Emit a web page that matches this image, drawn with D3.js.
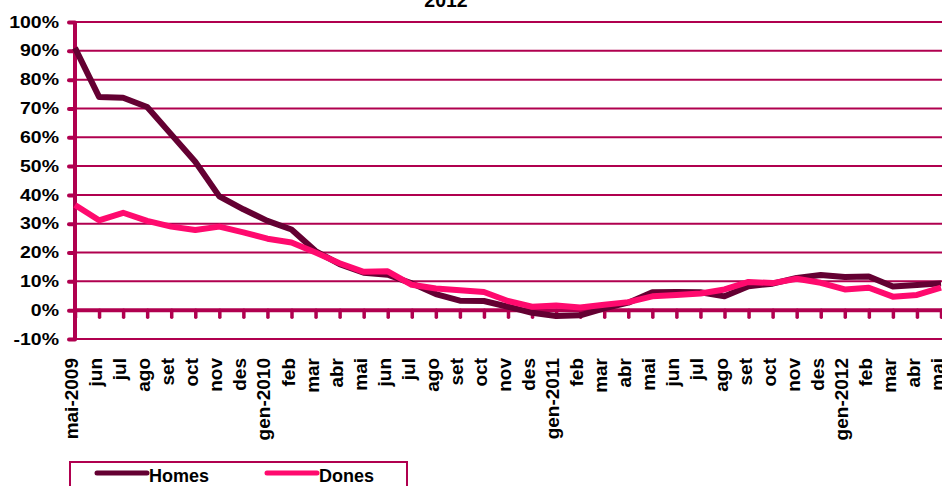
<!DOCTYPE html>
<html>
<head>
<meta charset="utf-8">
<script src="https://cdn.jsdelivr.net/npm/d3@7"></script>
<style>
	body { margin: 0; background: #fff; }
	svg { display: block; font-family: "Liberation Sans", Arial, sans-serif; font-weight: bold; }
</style>
</head>
<body>
<svg id="chart" width="942" height="486"></svg>
<script>
var months = ['mai-2009', 'jun', 'jul', 'ago', 'set', 'oct', 'nov', 'des',
	'gen-2010', 'feb', 'mar', 'abr', 'mai', 'jun', 'jul', 'ago', 'set', 'oct', 'nov', 'des',
	'gen-2011', 'feb', 'mar', 'abr', 'mai', 'jun', 'jul', 'ago', 'set', 'oct', 'nov', 'des',
	'gen-2012', 'feb', 'mar', 'abr', 'mai'];

var homes = [91, 74, 73.7, 70.5, 61, 51.5, 39.5, 35,
	31, 28, 20.5, 16, 13, 12.3, 9.3, 5.6, 3.3, 3.2, 1.2, -0.9,
	-2, -1.8, 0.6, 2.6, 6.2, 6.3, 6.2, 4.8, 8.3, 9.2, 11.2, 12.2,
	11.5, 11.7, 8.2, 8.7, 9.3];

var dones = [36.5, 31.2, 33.8, 31, 29, 27.8, 29, 27,
	24.8, 23.5, 20, 16.3, 13.3, 13.5, 8.8, 7.5, 6.9, 6.3, 3.2, 1.2,
	1.6, 0.9, 1.9, 2.8, 4.8, 5.3, 5.8, 7.2, 9.8, 9.4, 10.9, 9.5,
	7.2, 7.8, 4.7, 5.3, 7.8];

var yTicks = [-10, 0, 10, 20, 30, 40, 50, 60, 70, 80, 90, 100];

var seriesNames = ['Homes', 'Dones'];
var seriesColors = ['#640032', '#ff0a6e'];
var gridColor = '#b0004f';

var svg = d3.select('#chart');

var x = d3.scalePoint()
	.domain(d3.range(months.length))
	.range([75, 941]);

var y = d3.scaleLinear()
	.domain([-10, 100])
	.range([339, 22]);

// title (only its last line shows)
svg.append('text')
	.attr('x', 446)
	.attr('y', 7)
	.attr('text-anchor', 'middle')
	.style('font-size', '19.5px')
	.text('2012');

// horizontal grid
svg.append('g')
	.selectAll('line')
	.data(yTicks.filter(function (d) { return d != 0; }))
	.enter()
	.append('line')
	.attr('x1', 75)
	.attr('x2', 942)
	.attr('y1', function (d) { return y(d); })
	.attr('y2', function (d) { return y(d); })
	.attr('stroke', gridColor)
	.attr('stroke-width', 2);

// y axis
var yAxis = d3.axisLeft(y)
	.tickValues(yTicks)
	.tickSize(6)
	.tickPadding(10)
	.tickFormat(function (d) { return d + '%'; });

var gy = svg.append('g')
	.attr('transform', 'translate(75,0)')
	.call(yAxis);
gy.select('.domain').remove();
gy.selectAll('.tick line')
	.attr('stroke', gridColor)
	.attr('stroke-width', 4)
	.attr('stroke-linecap', 'round');
gy.selectAll('.tick text')
	.attr('fill', '#000')
	.attr('transform', 'scale(1,0.82)')
	.style('font-size', '19.5px')
	.style('font-family', '"Liberation Sans", Arial, sans-serif')
	.style('font-weight', 'bold');

svg.append('line')
	.attr('x1', 75).attr('x2', 75)
	.attr('y1', y(100)).attr('y2', y(-10))
	.attr('stroke', gridColor)
	.attr('stroke-width', 4);

// zero axis with ticks
var xAxis = d3.axisBottom(x)
	.tickSize(7)
	.tickFormat('');

var gx = svg.append('g')
	.attr('transform', 'translate(0,' + y(0) + ')')
	.call(xAxis);
gx.select('.domain').remove();
gx.selectAll('.tick line')
	.attr('stroke', gridColor)
	.attr('stroke-width', 3.5)
	.attr('stroke-linecap', 'round');

svg.append('line')
	.attr('x1', 75).attr('x2', 942)
	.attr('y1', y(0)).attr('y2', y(0))
	.attr('stroke', gridColor)
	.attr('stroke-width', 4);

// category labels
svg.append('g')
	.selectAll('text')
	.data(months)
	.enter()
	.append('text')
	.attr('transform', function (d, i) { return 'translate(' + (x(i) + 3) + ',358) rotate(-90)'; })
	.attr('text-anchor', 'end')
	.style('font-size', '19px')
	.text(function (d) { return d; });

// lines
var line = d3.line()
	.x(function (d, i) { return x(i); })
	.y(function (d) { return y(d); });

[homes, dones].forEach(function (s, k) {
	svg.append('path')
		.datum(s)
		.attr('d', line)
		.attr('fill', 'none')
		.attr('stroke', seriesColors[k])
		.attr('stroke-width', 6)
		.attr('stroke-linejoin', 'round');
});

// legend
var legend = svg.append('g');
legend.append('rect')
	.attr('x', 70)
	.attr('y', 462)
	.attr('width', 337)
	.attr('height', 40)
	.attr('fill', 'none')
	.attr('stroke', gridColor)
	.attr('stroke-width', 2);

var legendX = [97, 267];
seriesNames.forEach(function (name, k) {
	legend.append('line')
		.attr('x1', legendX[k]).attr('x2', legendX[k] + 50)
		.attr('y1', 473).attr('y2', 473)
		.attr('stroke', seriesColors[k])
		.attr('stroke-width', 5)
		.attr('stroke-linecap', 'round');
	legend.append('text')
		.attr('x', legendX[k] + 52)
		.attr('y', 482)
		.style('font-size', '18px')
		.text(name);
});
</script>
</body>
</html>
